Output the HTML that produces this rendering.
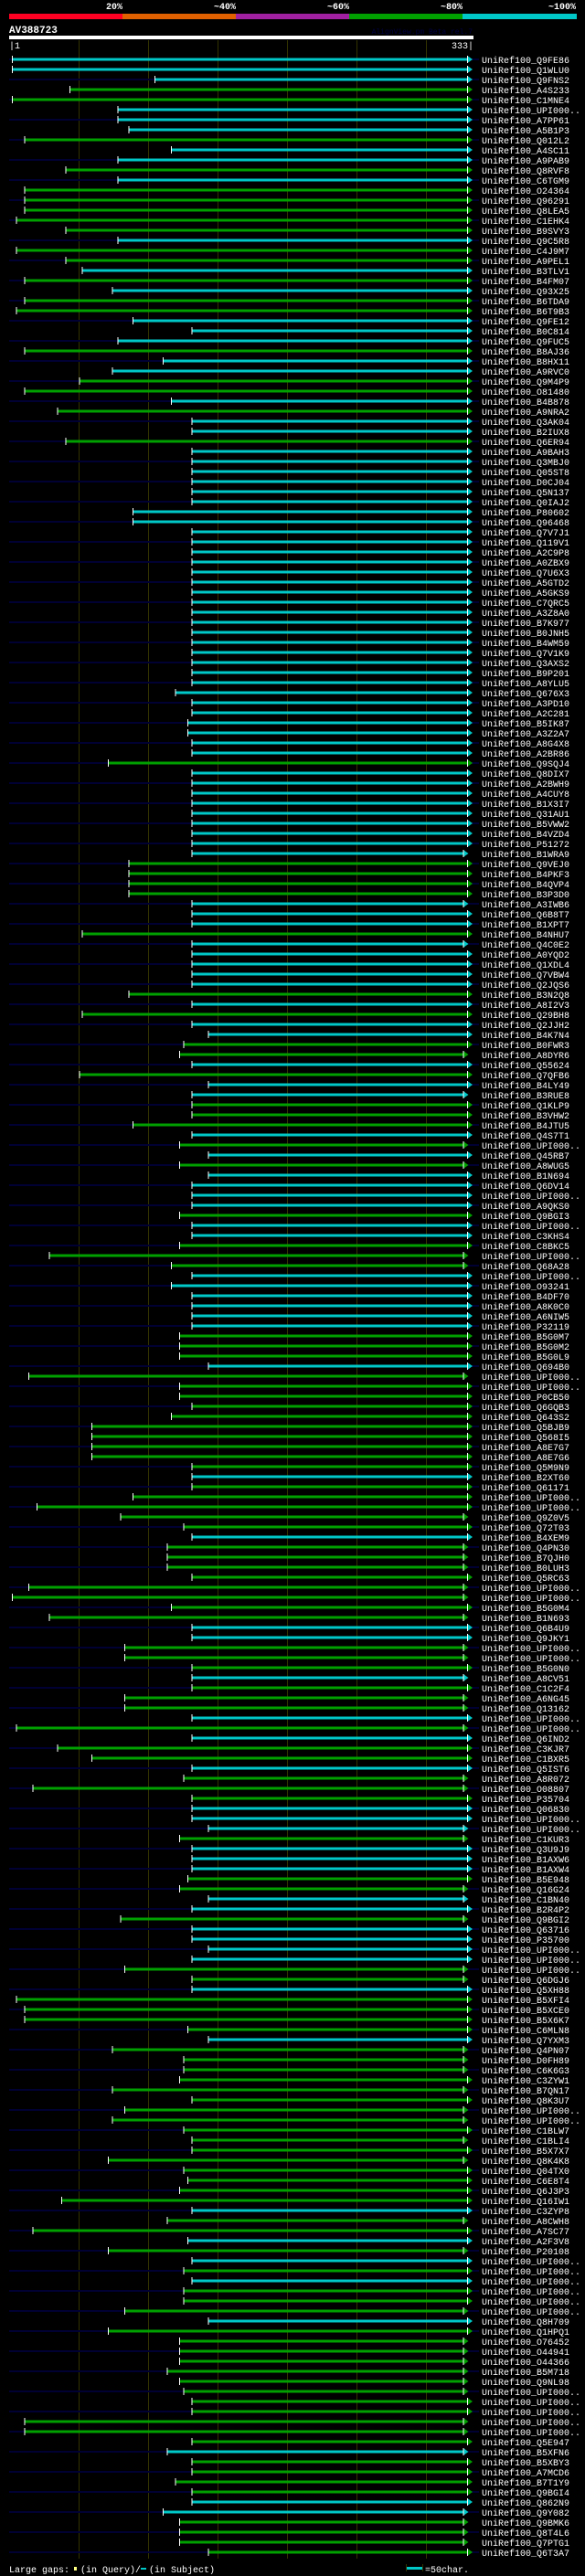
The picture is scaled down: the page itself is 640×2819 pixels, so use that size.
<!DOCTYPE html>
<html><head><meta charset="utf-8">
<style>
html,body{margin:0;padding:0;background:#000;}
body{width:640px;height:2819px;overflow:hidden;position:relative;font-family:"Liberation Mono",monospace;}
svg{position:absolute;left:0;top:0;}
</style></head>
<body>
<svg id="chart" width="640" height="2819" xmlns="http://www.w3.org/2000/svg">
  <g>
    <rect x="10" y="15" width="124" height="6" fill="#ff0022"/>
    <rect x="134" y="15" width="124" height="6" fill="#e06000"/>
    <rect x="258" y="15" width="124" height="6" fill="#a020a0"/>
    <rect x="382" y="15" width="124" height="6" fill="#00a000"/>
    <rect x="506" y="15" width="125" height="6" fill="#00c8c8"/>
    <g font-family="Liberation Mono, monospace" font-size="10" font-weight="bold" fill="#fff" text-anchor="end">
      <text x="134" y="10">20%</text>
      <text x="258" y="10">~40%</text>
      <text x="382" y="10">~60%</text>
      <text x="506" y="10">~80%</text>
      <text x="630" y="10">~100%</text>
    </g>
  </g>
  <text x="10" y="36" font-size="11" font-weight="bold" fill="#fff">AV388723</text>
  <text x="517" y="37" font-size="8" fill="#000044" text-anchor="end">AlignView.pm Beta rel.7</text>
  <rect x="10" y="39" width="508" height="4" fill="#fff"/>
  <text x="10" y="53" font-size="10" fill="#fff">|1</text>
  <text x="518" y="53" font-size="10" fill="#fff" text-anchor="end">333|</text>
  <g id="grid"></g>
  <g id="rows"></g>
  <g>
    <text x="10" y="2815" font-size="10" fill="#fff">Large gaps:</text>
    <rect x="81" y="2809" width="3" height="4" fill="#ffff80"/>
    <text x="88" y="2815" font-size="10" fill="#fff">(in Query)/</text>
    <rect x="154" y="2810" width="6" height="2" fill="#00c8c8"/>
    <text x="163" y="2815" font-size="10" fill="#fff">(in Subject)</text>
    <rect x="444" y="2806" width="1" height="8" fill="#333300"/>
    <rect x="445" y="2809" width="17" height="3" fill="#00c8c8"/>
    <rect x="462" y="2806" width="1" height="8" fill="#333300"/>
    <text x="465" y="2815" font-size="10" fill="#fff">=50char.</text>
  </g>
</svg>
<script>
const labels = ["Q9FE86","Q1WLU0","Q9FNS2","A4S233","C1MNE4","UPI000..","A7PP61","A5B1P3","Q012L2","A4SC11","A9PAB9","Q8RVF8","C6TGM9","O24364","Q96291","Q8LEA5","C1EHK4","B9SVY3","Q9C5R8","C4J9M7","A9PEL1","B3TLV1","B4FM07","Q93X25","B6TDA9","B6T9B3","Q9FE12","B0C814","Q9FUC5","B8AJ36","B8HX11",
"A9RVC0","Q9M4P9","O81480","B4B878","A9NRA2","Q3AK04","B2IUX8","Q6ER94","A9BAH3","Q3MBJ0","Q05ST8","D0CJ04","Q5N137","Q0IAJ2","P80602","Q96468","Q7V7J1","Q119V1","A2C9P8","A0ZBX9","Q7U6X3","A5GTD2","A5GKS9","C7QRC5","A3Z8A0","B7K977","B0JNH5","B4WM59","Q7V1K9","Q3AXS2","B9P201",
"A8YLU5","Q676X3","A3PD10","A2C281","B5IK87","A3Z2A7","A8G4X8","A2BR86","Q9SQJ4","Q8DIX7","A2BWH9","A4CUY8","B1X3I7","Q31AU1","B5VWW2","B4VZD4","P51272","B1WRA9","Q9VEJ0","B4PKF3","B4QVP4","B3P3D0","A3IWB6","Q6B8T7","B1XPT7","B4NHU7","Q4C0E2","A0YQD2","Q1XDL4","Q7VBW4","Q2JQS6",
"B3N2Q8","A8I2V3","Q29BH8","Q2JJH2","B4K7N4","B0FWR3","A8DYR6","Q55624","Q7QFB6","B4LY49","B3RUE8","Q1KLP9","B3VHW2","B4JTU5","Q4S7T1","UPI000..","Q45RB7","A8WUG5","B1N694","Q6DV14","UPI000..","A9QKS0","Q9BGI3","UPI000..","C3KHS4","C8BKC5","UPI000..","Q68A28","UPI000..","O93241","B4DF70",
"A8K0C0","A6NIW5","P32119","B5G0M7","B5G0M2","B5G0L9","Q694B0","UPI000..","UPI000..","P0CB50","Q6GQB3","Q643S2","Q5BJB9","Q568I5","A8E7G7","A8E7G6","Q5M9N9","B2XT60","Q61171","UPI000..","UPI000..","Q9Z0V5","Q72T03","B4XEM9","Q4PN30","B7QJH0","B0LUH3","Q5RC63","UPI000..","UPI000..","B5G0M4","B1N693",
"Q6B4U9","Q9JKY1","UPI000..","UPI000..","B5G0N0","A8CV51","C1C2F4","A6NG45","Q13162","UPI000..","UPI000..","Q6IND2","C3KJR7","C1BXR5","Q5IST6","A8R072","O08807","P35704","Q06830","UPI000..","UPI000..","C1KUR3","Q3U9J9","B1AXW6","B1AXW4","B5E948","Q16G24","C1BN40","B2R4P2","Q9BGI2","Q63716",
"P35700","UPI000..","UPI000..","UPI000..","Q6DGJ6","Q5XH88","B5XFI4","B5XCE0","B5X6K7","C6MLN8","Q7YXM3","Q4PN07","D0FH89","C6K6G3","C3ZYW1","B7QN17","Q8K3U7","UPI000..","UPI000..","C1BLW7","C1BLI4","B5X7X7","Q8K4K8","Q04TX0","C6E8T4","Q6J3P3","Q16IW1","C3ZYP8","A8CWH8","A7SC77","A2F3V8",
"P20108","UPI000..","UPI000..","UPI000..","UPI000..","UPI000..","UPI000..","Q8H709","Q1HPQ1","O76452","O44941","O44366","B5M718","Q9NL98","UPI000..","UPI000..","UPI000..","UPI000..","UPI000..","Q5E947","B5XFN6","B5XBY3","A7MCD6","B7T1Y9","Q9BGI4","Q862N9","Q9Y082","Q9BMK6","Q8T4L6","Q7PTG1","Q6T3A7"];
const starts = [1,1,105,43,1,78,78,86,10,117,78,40,78,10,10,10,4,40,78,4,40,52,10,74,10,4,89,132,78,10,111,
74,50,10,117,34,132,132,40,132,132,132,132,132,132,89,89,132,132,132,132,132,132,132,132,132,132,132,132,132,132,132,
132,120,132,132,129,129,132,132,71,132,132,132,132,132,132,132,132,132,86,86,86,86,132,132,132,52,132,132,132,132,132,
86,132,52,132,144,126,123,132,50,144,132,132,132,89,132,123,144,123,144,132,132,132,123,132,132,123,28,117,132,117,132,
132,132,132,123,123,123,144,13,123,123,132,117,59,59,59,59,132,132,132,89,19,80,126,132,114,114,114,132,13,1,117,28,
132,132,83,83,132,132,132,83,83,132,4,132,34,59,132,126,16,132,132,132,144,123,132,132,132,129,123,144,132,80,132,
132,144,132,83,132,132,4,10,10,129,144,74,126,126,123,74,132,83,74,126,132,132,71,126,129,123,37,132,114,16,129,
71,132,126,132,126,126,83,144,71,123,123,123,114,123,126,132,132,10,10,132,114,132,132,120,132,132,111,123,123,123,144];
const ends = [333,333,333,333,333,333,333,333,333,333,333,333,333,333,333,333,333,333,333,333,333,333,333,333,333,333,333,333,333,333,333,
333,333,333,333,333,333,333,333,333,333,333,333,333,333,333,333,333,333,333,333,333,333,333,333,333,333,333,333,333,333,333,
333,333,333,333,333,333,333,333,333,333,333,333,333,333,333,333,333,330,333,333,333,333,330,333,333,333,330,333,333,333,333,
333,333,333,333,333,333,330,333,333,333,330,333,333,333,333,330,333,330,333,333,333,333,333,333,333,333,330,330,333,333,333,
333,333,333,333,333,333,333,330,333,333,333,333,333,333,333,333,333,333,333,333,333,330,333,333,330,330,330,333,330,330,333,330,
333,333,330,330,333,330,333,330,330,333,330,333,333,333,333,330,330,333,333,333,330,330,333,333,333,333,330,330,333,330,333,
333,333,333,330,330,333,333,333,333,333,333,330,330,330,333,330,333,330,330,333,330,333,330,333,333,333,333,333,330,333,333,
330,333,333,333,333,333,330,333,333,330,330,330,330,330,330,333,333,330,330,333,330,333,333,333,333,333,330,330,330,330,333];
const kinds = [
 "cccggcccgccgcgggggcggcgcggcccgc",
 "cggcgccgccccccccccccccccccccccc",
 "ccccccccgcccccccccggggcccgccccc",
 "gcgccggcgccgggcgcgccccgccgggccc",
 "cccgggcggggggggggcgggggcgggggggg",
 "ccgggcgggcgcggcgggcccgcccggccgc",
 "cccggcggggcggggggggggggggggcggc",
 "gcgcgggcggggggggggggcggggccggggc"
].join("");
const COLORS = {c:"#00c8c8", g:"#00a000"};
const X0 = 13, PXR = 1.5, ROW0 = 65, ROWH = 11;
function xScale(r){ return X0 + (r-1)*PXR; }
function yScale(i){ return ROW0 + i*ROWH; }
const NS = "http://www.w3.org/2000/svg";
function mk(tag, attrs, parent){
  const e = document.createElementNS(NS, tag);
  for (const k in attrs) e.setAttribute(k, attrs[k]);
  parent.appendChild(e);
  return e;
}
const grid = document.getElementById('grid');
for (let k=0;k<6;k++){
  const gl = mk('rect',{x:86+76*k,y:44,width:1,height:2756,fill:'#333300'},grid);
  
  
}
const rowsG = document.getElementById('rows');
for (let i=0;i<labels.length;i++){
  const y = yScale(i);
  const xs = xScale(starts[i]);
  const xe = xScale(ends[i]);
  const col = COLORS[kinds[i]] || COLORS.c;
  const g = mk('g',{},rowsG);
  
  
  if (i % 2 === 0){
    mk('rect',{x:10,y:y-1,width:Math.max(0,xs-10),height:2,fill:'#000033'},g);
    mk('rect',{x:xe+5,y:y-1,width:Math.max(0,524-xe-5),height:2,fill:'#000033'},g);
  }
  const bar = mk('rect',{x:xs,y:y-1.5,width:xe-xs,height:3,fill:col},g);
  
  
  mk('rect',{x:xs,y:y-4,width:1,height:8,fill:'#fff'},g);
  mk('rect',{x:xe,y:y-4,width:1,height:8,fill:'#fff'},g);
  mk('polygon',{points:(xe+1)+','+(y-3.5)+' '+(xe+6)+','+y+' '+(xe+1)+','+(y+3.5),fill:col},g);
  const t = mk('text',{x:527,y:y+4,'font-size':10,fill:'#fff','font-family':'Liberation Mono, monospace'},g);
  t.textContent = 'UniRef100_' + labels[i];
  
  
}
</script>
</body></html>
